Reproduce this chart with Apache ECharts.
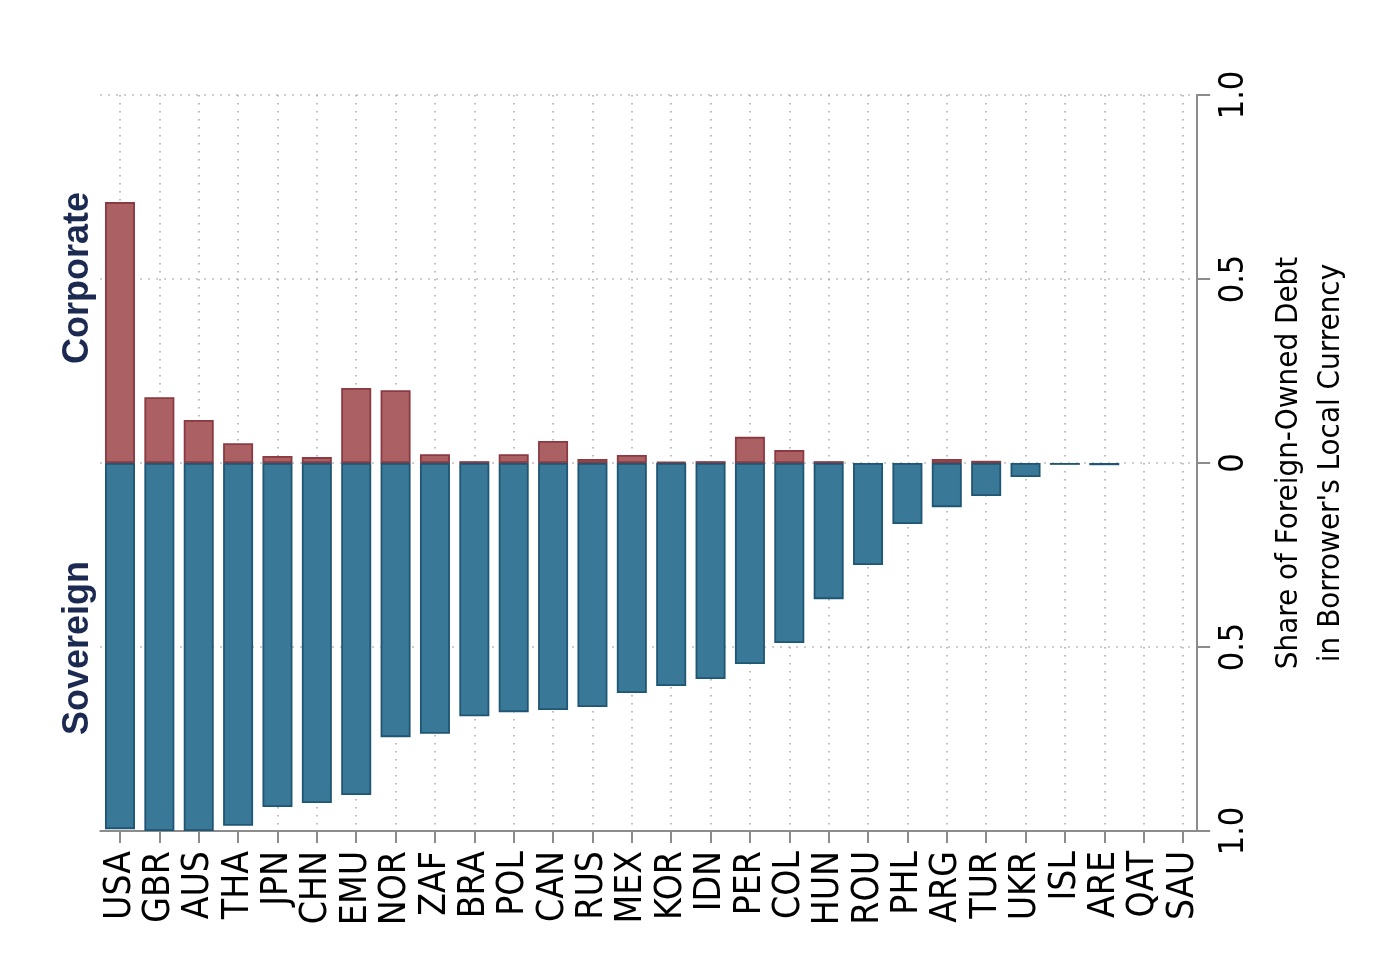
<!DOCTYPE html>
<html>
<head>
<meta charset="utf-8">
<script src="https://cdn.jsdelivr.net/npm/echarts@6/dist/echarts.min.js"></script>
<style>
  html, body { margin: 0; padding: 0; background: #fff; }
  #chart { width: 1378px; height: 979px; }
</style>
</head>
<body>
<div id="chart"></div>
<script>
const countries = ['USA', 'GBR', 'AUS', 'THA', 'JPN', 'CHN', 'EMU', 'NOR', 'ZAF', 'BRA',
    'POL', 'CAN', 'RUS', 'MEX', 'KOR', 'IDN', 'PER', 'COL', 'HUN', 'ROU',
    'PHL', 'ARG', 'TUR', 'UKR', 'ISL', 'ARE', 'QAT', 'SAU'];

// share of corporate debt held by foreigners in local currency (drawn upward)
const corporate = [0.709, 0.179, 0.117, 0.054, 0.019, 0.016, 0.204, 0.198, 0.024, 0.005,
    0.024, 0.060, 0.011, 0.022, 0.003, 0.005, 0.071, 0.035, 0.005, 0,
    0, 0.011, 0.006, 0, 0, 0, 0, 0];

// sovereign share (drawn downward)
const sovereign = [0.995, 1.0, 1.0, 0.986, 0.935, 0.924, 0.902, 0.745, 0.736, 0.688,
    0.677, 0.671, 0.663, 0.625, 0.606, 0.587, 0.546, 0.489, 0.370, 0.277,
    0.166, 0.120, 0.090, 0.038, 0.005, 0.006, 0, 0];

const narrow = '"Liberation Sans Narrow", "DejaVu Sans Condensed", sans-serif';

// zero shares get no bar at all (a zero-height bar would still draw its border)
const noZero = v => (v === 0 ? null : v);

const chart = echarts.init(document.getElementById('chart'));

const option = {
    animation: false,
    grid: {
        left: 100.3,
        top: 95,
        width: 1102.4,
        height: 736
    },
    xAxis: {
        type: 'category',
        data: countries,
        boundaryGap: true,
        axisLine: { show: true, onZero: false, lineStyle: { color: '#8c8c8c', width: 2 } },
        axisTick: {
            show: true,
            interval: 0,
            alignWithLabel: true,
            inside: false,
            length: 12,
            lineStyle: { color: '#8c8c8c', width: 2 }
        },
        axisLabel: {
            rotate: 90,
            interval: 0,
            margin: 20,
            color: '#000',
            fontFamily: narrow,
            fontSize: 37
        },
        splitLine: {
            show: true,
            interval: 0,
            alignWithLabel: true,
            lineStyle: { color: '#a8a8a8', type: [1.5, 6.5], width: 1.5 }
        }
    },
    yAxis: {
        type: 'value',
        position: 'right',
        offset: -5.5,
        min: -1,
        max: 1,
        interval: 0.5,
        axisLine: { show: true, lineStyle: { color: '#8c8c8c', width: 2 } },
        axisTick: { show: true, length: 13, lineStyle: { color: '#8c8c8c', width: 2 } },
        axisLabel: {
            rotate: 90,
            margin: 20,
            color: '#000',
            fontFamily: narrow,
            fontSize: 34,
            formatter: function (v) {
                if (v === 0) {
                    return '0';
                }
                return Math.abs(v).toFixed(1);
            }
        },
        splitLine: {
            show: true,
            lineStyle: { color: '#a8a8a8', type: [1.5, 6.5], width: 1.5 }
        }
    },
    series: [
        {
            name: 'Corporate',
            type: 'bar',
            data: corporate.map(noZero),
            barWidth: 30,
            barGap: '-100%',
            itemStyle: { color: '#ab6164', borderColor: '#8b3a41', borderWidth: 1.8 }
        },
        {
            name: 'Sovereign',
            type: 'bar',
            data: sovereign.map(v => noZero(-v)),
            barWidth: 30,
            itemStyle: { color: '#3a7898', borderColor: '#1f5674', borderWidth: 1.8 }
        }
    ],
    graphic: [
        {
            type: 'text',
            x: 78,
            y: 278,
            rotation: Math.PI / 2,
            style: {
                text: 'Corporate',
                fill: '#1c2a52',
                font: 'bold 36px "Liberation Sans", Arial, sans-serif',
                align: 'center',
                verticalAlign: 'middle'
            }
        },
        {
            type: 'text',
            x: 78,
            y: 648,
            rotation: Math.PI / 2,
            style: {
                text: 'Sovereign',
                fill: '#1c2a52',
                font: 'bold 36px "Liberation Sans", Arial, sans-serif',
                align: 'center',
                verticalAlign: 'middle'
            }
        },
        {
            type: 'text',
            x: 1310,
            y: 463,
            rotation: Math.PI / 2,
            style: {
                text: 'Share of Foreign-Owned Debt\nin Borrower\'s Local Currency',
                fill: '#000',
                font: '31px ' + narrow,
                lineHeight: 42,
                align: 'center',
                verticalAlign: 'middle'
            }
        }
    ]
};

chart.setOption(option);
</script>
</body>
</html>
